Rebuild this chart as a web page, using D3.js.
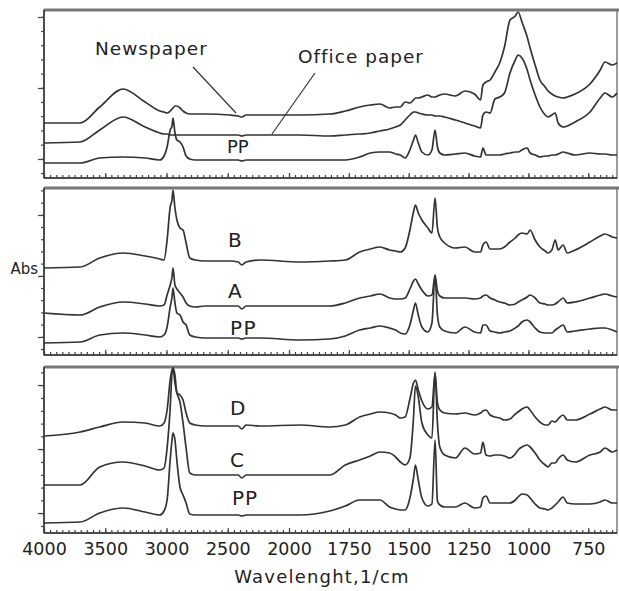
<!DOCTYPE html>
<html><head><meta charset="utf-8">
<script src="https://cdn.jsdelivr.net/npm/d3@7"></script>
<style>body{margin:0;background:#fff} svg{display:block}</style>
</head><body><svg id="c" width="619" height="591"></svg>
<script>
// Wavenumber grid (1/cm) shared by all spectra
const wavenumbers = [4000,3705,3545,3355,3175,3055,3020,2995,2970,2955,2947,2931,2915,2890,2865,2840,2810,2765,2685,2480,2415,2385,2350,2235,
 1955,1830,1765,1705,1660,1620,1580,1555,1535,1515,
 1495,1480,1472,1460,1445,1420,1403,1390,1380,1370,
 1350,1305,1265,1225,1200,1190,1177,1160,1140,1120,
 1100,1077,1055,1043,1027,1005,993,972,952,930,
 918,902,888,876,855,838,805,743,700,680,
 650,630];

// Absorbance (arbitrary units x100, offset within each panel)
const newspaper = [55,55,71,89,76,67,66,65,67,69,70,72,72,70,67,65,64,64,64,63,62,61,63,63,
 63,64,67,71,73,74,70,71,71,76,
 75,78,80,80,81,83,81,81,82,83,
 84,82,87,84,78,93,96,98,106,115,
 131,158,162,166,156,141,130,113,98,91,
 87,84,82,81,80,81,84,94,108,116,
 113,115];
const officePaper = [35,36,48,61,51,45,44,44,43,43,43,43,43,43,43,43,43,43,43,43,43,42,43,43,
 43,42,43,44,45,47,49,51,53,58,
 63,66,66,65,64,63,63,62,62,62,
 61,58,55,52,50,63,66,65,79,81,
 85,105,118,123,120,108,98,83,71,63,
 61,63,65,55,51,52,56,66,80,85,
 81,85];
const pp1 = [15,15,20,21,20,18,22,31,48,52,60,45,38,36,31,22,19,18,18,18,18,17,18,18,
 18,18,18,21,25,26,26,24,23,20,
 28,38,43,35,26,23,28,48,31,25,
 23,24,25,22,21,30,23,23,23,23,
 24,25,26,26,28,30,25,23,21,22,
 22,23,23,24,26,25,23,25,24,24,
 23,23];
const sampleB = [87,88,97,102,99,96,95,115,148,155,165,147,135,127,125,112,97,95,94,94,93,90,93,95,
 93,94,95,103,106,108,105,104,103,107,
 125,143,150,142,135,127,122,157,127,118,
 112,107,108,103,103,110,113,106,106,106,
 108,113,117,120,122,121,125,115,108,104,
 102,105,115,105,110,102,105,113,119,121,
 118,117];
const sampleA = [42,40,48,53,51,49,50,60,70,78,87,70,66,62,58,52,49,48,49,49,49,46,49,49,
 49,49,52,57,59,61,57,56,56,57,
 66,74,76,71,65,59,60,80,64,59,
 57,57,57,56,57,59,60,57,55,53,
 52,50,51,53,55,58,60,57,52,51,
 50,50,51,53,57,52,53,57,60,61,
 59,58];
const pp2 = [12,13,20,22,20,18,20,28,48,58,67,52,42,40,33,30,20,18,17,17,17,16,17,17,
 15,16,19,25,27,29,27,25,22,21,
 30,45,52,40,28,23,32,80,40,28,
 24,22,28,23,22,30,30,24,23,22,
 23,24,27,29,33,35,33,27,23,22,
 22,22,25,27,30,23,24,26,27,27,
 25,23];
const sampleD = [97,101,106,111,110,107,110,123,153,163,165,158,140,138,133,120,110,108,107,107,107,104,108,107,
 108,106,108,116,119,121,120,118,115,116,
 134,150,153,143,132,124,126,160,130,123,
 120,119,120,118,120,122,123,118,116,115,
 113,114,119,121,124,126,123,116,111,108,
 108,112,111,114,118,113,113,119,124,126,
 123,123];
const sampleC = [48,48,66,71,67,63,65,85,125,160,165,150,140,131,110,85,60,58,58,58,58,55,58,58,
 58,58,68,73,77,81,80,76,71,68,
 75,115,147,136,110,98,95,161,110,86,
 78,75,85,79,80,91,78,77,78,78,
 77,75,79,83,86,88,86,80,73,68,
 66,70,70,74,78,73,71,78,81,85,
 81,83];
const pp3 = [10,11,20,25,21,18,22,33,73,93,100,93,72,46,38,30,19,18,18,18,18,17,18,18,
 18,22,27,33,33,33,26,24,23,23,
 35,55,68,53,35,27,29,93,32,28,
 26,26,30,25,26,35,37,30,30,30,
 30,30,33,36,39,38,35,29,25,24,
 23,25,28,31,36,30,29,29,31,33,
 30,30];

const tickLabels = [4000,3500,3000,2500,2000,1750,1500,1250,1000,750];
const axisTitle = "Wavelenght,1/cm";
const yLabel = "Abs";

const svg = d3.select("#c");
const X0 = 44, X1 = 617;
const x = d3.scaleLinear().domain([4000, 2000, 630]).range([X0, 289, X1]);

const panels = [
  {top:10, bottom:178, series:[newspaper, officePaper, pp1], major:[19,90,161], step:14.2, start:5},
  {top:188, bottom:355, series:[sampleB, sampleA, pp2], major:[18,79,140], step:12.2, start:6},
  {top:367, bottom:533, series:[sampleD, sampleC, pp3], major:[20,84,148], step:12.8, start:7}
];

const minorX = d3.range(4000, 2000, -50).concat(d3.range(2000, 640, -25));

panels.forEach((p, i) => {
  const h = p.bottom - p.top;
  const y = d3.scaleLinear().domain([0, h]).range([p.bottom, p.top]);
  const g = svg.append("g");
  g.append("rect").attr("x", X0).attr("y", p.top).attr("width", X1 - X0).attr("height", h)
    .attr("fill", "none").attr("stroke", "#666").attr("stroke-width", 1.3);
  g.append("line").attr("x1", X0).attr("x2", X1 + 2).attr("y1", p.top).attr("y2", p.top)
    .attr("stroke", "#777").attr("stroke-width", 3);
  g.append("line").attr("x1", X0).attr("x2", X0).attr("y1", p.top).attr("y2", p.bottom)
    .attr("stroke", "#333").attr("stroke-width", 1.5);
  g.append("line").attr("x1", X0).attr("x2", X1).attr("y1", p.bottom).attr("y2", p.bottom)
    .attr("stroke", "#333").attr("stroke-width", 1.5);
  const minorY = d3.range(p.start, h, p.step);
  const la = g.append("g").attr("transform", `translate(${X0},0)`)
    .call(d3.axisLeft(y).tickValues(minorY).tickSize(3).tickFormat(""));
  const lb = g.append("g").attr("transform", `translate(${X0},0)`)
    .call(d3.axisLeft(y).tickValues(p.major).tickSize(6).tickFormat(""));
  const ba = g.append("g").attr("transform", `translate(0,${p.bottom})`)
    .call(d3.axisTop(x).tickValues(minorX).tickSize(3).tickFormat(""));
  const bb = g.append("g").attr("transform", `translate(0,${p.bottom})`)
    .call(d3.axisTop(x).tickValues(tickLabels).tickSize(5).tickFormat(""));
  [la, lb, ba, bb].forEach(a => {
    a.select(".domain").remove();
    a.selectAll(".tick line").attr("stroke", "#444").attr("stroke-width", 1.2);
  });
  const line = d3.line().curve(d3.curveMonotoneX)
    .x((d, k) => x(wavenumbers[k])).y(d => y(d));
  p.series.forEach(s => {
    g.append("path").datum(s).attr("d", line).attr("fill", "none")
      .attr("stroke", "#333").attr("stroke-width", 1.7).attr("stroke-linejoin", "round");
  });
});

const labAxis = svg.append("g").attr("transform", `translate(0,${panels[2].bottom})`)
  .call(d3.axisBottom(x).tickValues(tickLabels).tickSize(0).tickPadding(10).tickFormat(d3.format("d")));
labAxis.select(".domain").remove();
labAxis.selectAll("text").attr("font-family", "DejaVu Sans").attr("font-size", 17.5).attr("fill", "#222");

const T = (txt, xx, yy, size, opts = {}) => svg.append("text").text(txt)
  .attr("x", xx).attr("y", yy).attr("font-family", "DejaVu Sans").attr("font-size", size)
  .attr("fill", "#222").attr("letter-spacing", opts.ls || 0)
  .attr("text-anchor", opts.anchor || "start");

T(axisTitle, 322, 583, 18, {anchor: "middle", ls: 1.2});
T(yLabel, 38, 274, 15, {anchor: "end"});

T("Newspaper", 95, 55, 18.5, {ls: 1});
T("Office paper", 298, 63, 18.5, {ls: 1});
T("PP", 227, 153, 18);
T("B", 228, 247, 20);
T("A", 228, 298, 20);
T("PP", 230, 335, 20, {ls: 1.5});
T("D", 230, 415, 20);
T("C", 230, 467, 20);
T("PP", 232, 505, 20, {ls: 1});

svg.append("line").attr("x1", 193).attr("y1", 67).attr("x2", 236).attr("y2", 113)
  .attr("stroke", "#333").attr("stroke-width", 1.2);
svg.append("line").attr("x1", 315).attr("y1", 73).attr("x2", 272).attr("y2", 134)
  .attr("stroke", "#333").attr("stroke-width", 1.2);
</script></body></html>
